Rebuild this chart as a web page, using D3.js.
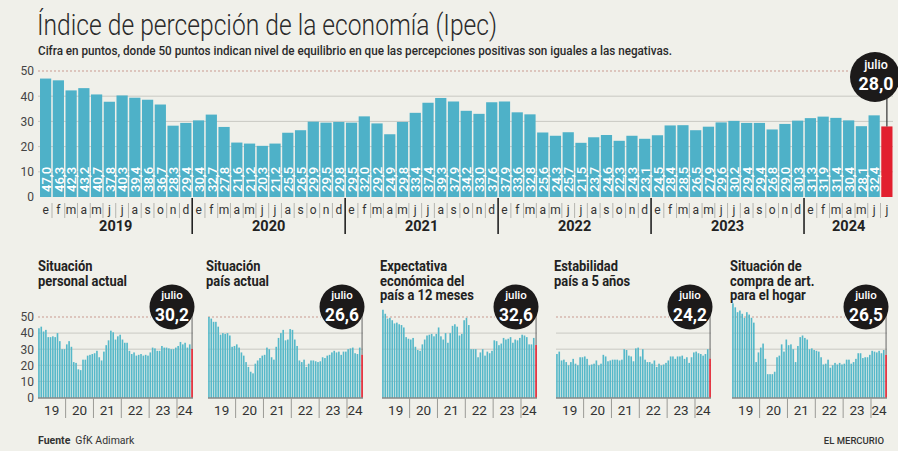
<!DOCTYPE html>
<html><head><meta charset="utf-8">
<script src="https://cdn.jsdelivr.net/npm/d3@7"></script>
<style>
html,body{margin:0;padding:0;background:#f0f0ea;}
svg{display:block;font-family:Roboto,"Noto Sans",sans-serif;}
</style></head>
<body>
<svg id="c" width="898" height="451"></svg>
<script>
// ---------- DATA ----------
const monthLetters = ["e","f","m","a","m","j","j","a","s","o","n","d"];
const years = ["2019","2020","2021","2022","2023","2024"];
const shortYears = ["19","20","21","22","23","24"];
const ipec = [
  47.0,46.3,42.3,43.2,40.7,37.8,40.3,39.4,38.6,36.7,28.3,29.4,
  30.4,32.7,27.8,21.6,21.2,20.3,21.2,25.5,26.5,29.9,29.5,29.8,
  29.5,32.0,29.2,24.9,29.8,33.4,37.4,39.3,37.9,34.2,33.0,37.6,
  37.9,33.6,32.8,25.6,24.3,25.7,21.5,23.7,24.6,22.3,24.3,23.1,
  24.5,28.4,28.5,26.5,27.9,29.6,30.2,29.4,29.4,26.8,29.0,30.3,
  31.3,31.9,31.4,30.4,28.1,32.4,28.0];
const personal = [
  43,44,41,42,37.5,37.5,38,37.5,40,35,30,30,
  33,35,31.5,22,21.5,17.5,17,23.5,23.5,26,26.5,27,
  27.5,29,25,23,28.5,32.5,35.5,41.5,40.5,36,38,39,
  36,34,34,29,27,28,26,26.5,27,26,26.5,26,
  28,31,30.5,29,29,32,31,31,30.5,30,30,31,
  32,34.5,33,34,31,33,30.2];
const paisActual = [
  50,49,47,47,44,39,40,39.5,40,38.5,31.5,32,
  33,31,28,26,22,19,16,15,21,23,24.5,26,
  26.5,31,30,25,23.5,31.5,37,40,42,35.5,36,42.5,
  42,36,32,23,22,23.5,19,21,23,23,22.5,22,
  22.5,25,24.5,26,26.5,28,29,28,28.5,26.5,28.5,28.5,
  30,30.5,31,27.5,27,31,26.6];
const expectativa = [
  54.5,52,49,49.5,48,46,46.5,45.5,45,43.5,37.5,36.5,
  36,37,31.5,29.5,29,33,36,38.5,39,39.5,38,39.5,
  43.5,38,36,40,34,40,44.5,45.5,44,38.5,39.5,48,
  49.5,45,30,30,30,25,28,30,26,28.5,27.5,29,
  35.5,35,32.5,33.5,37,36,36.5,37.5,34,36,35.5,37,
  39,38.5,37.5,33,33,37,32.6];
const estabilidad = [
  27,28.5,23,23.5,22,20,22,24,21,20,25,25,
  25.5,24,20,20.5,21,23,20,21,26.5,25.5,22.5,23,
  23.5,23.5,23.5,23,23.5,30,29.5,26,25.5,22.5,30.5,31,
  25.5,30,23.5,22,22,21,23,19,21,20,20.5,21.5,
  23,25.5,25.5,24,25.5,25.5,26,24,25,21.5,25,28,
  28.5,27.5,27,26,27,30,24.2];
const compraHogar = [
  58.5,56,53,54,52,49.5,53,51.5,49.5,46.5,22,28,
  31,33.5,24,14.5,14.5,14.5,16,25,26,33,28.5,36,
  32.5,33,30,22,32,37.5,38.5,37,36,30,30.5,29.5,
  29,28.5,25,20.5,21,23.5,18.5,20,21.5,20.5,21.5,20.5,
  21,23.5,23.5,21,22,24,27.5,27.5,24.5,25,25,26.5,
  29,28.5,28,29,27.5,29.5,26.5];
const panelSeries = [personal, paisActual, expectativa, estabilidad, compraHogar];
const panelTitles = [
  ["Situación","personal actual"],
  ["Situación","país actual"],
  ["Expectativa","económica del","país a 12 meses"],
  ["Estabilidad","país a 5 años"],
  ["Situación de","compra de art.","para el hogar"]];
const yTicks = [0,10,20,30,40,50];
const titleText = "Índice de percepción de la economía (Ipec)";
const subtitleText = "Cifra en puntos, donde 50 puntos indican nivel de equilibrio en que las percepciones positivas son iguales a las negativas.";

// ---------- STYLE ----------
const BAR = "#4eb1c8", RED = "#e2202f", GRID = "#c9c9c3", DASH = "#c99a90", INK = "#222";
const fmt = v => d3.format(".1f")(v).replace(".", ",");

const svg = d3.select("#c");
svg.append("rect").attr("width",898).attr("height",451).attr("fill","#f0f0ea");

// Title / subtitle
svg.append("text").attr("x",37).attr("y",35).attr("font-size",29).attr("font-weight",300)
  .attr("fill","#2a2a2a").text(titleText)
  .attr("textLength",460).attr("lengthAdjust","spacingAndGlyphs");
svg.append("text").attr("x",38).attr("y",55).attr("font-size",13).attr("font-weight",500)
  .attr("fill","#2a2a2a").text(subtitleText)
  .attr("textLength",634).attr("lengthAdjust","spacingAndGlyphs");

// ---------- MAIN CHART ----------
const n = ipec.length;
const x = d3.scaleBand().domain(d3.range(n)).range([39.5, 893]).paddingInner(0.12).paddingOuter(0.04);
const y = d3.scaleLinear().domain([0,50]).range([197,71]);
const step = x.step();
const bnd = i => x(i) - step*x.paddingInner()/2;

const g = svg.append("g");
g.selectAll("line.grid").data(yTicks.filter(d=>d>0 && d<50)).join("line")
  .attr("x1",38).attr("x2",893).attr("y1",d=>y(d)).attr("y2",d=>y(d))
  .attr("stroke",GRID).attr("stroke-width",1);
g.append("line").attr("x1",38).attr("x2",850).attr("y1",y(50)).attr("y2",y(50))
  .attr("stroke",DASH).attr("stroke-dasharray","2,2");

const ax = g.append("g").attr("transform","translate(35,0)")
  .call(d3.axisLeft(y).tickValues(yTicks).tickSize(0).tickPadding(1).tickFormat(d3.format("d")));
ax.select(".domain").remove();
ax.selectAll("text").attr("font-size",12).attr("fill","#444").attr("font-family","Roboto,sans-serif");

g.selectAll("rect.bar").data(ipec).join("rect")
  .attr("x",(d,i)=>x(i)).attr("width",x.bandwidth())
  .attr("y",d=>y(d)).attr("height",d=>y(0)-y(d))
  .attr("fill",(d,i)=>i===n-1?RED:BAR);

g.selectAll("text.val").data(ipec.slice(0,n-1)).join("text")
  .attr("transform",(d,i)=>`translate(${x(i)+x.bandwidth()/2+0.5},192) rotate(-90)`)
  .attr("dy","0.36em").attr("font-size",13).attr("font-weight",500).attr("fill","#fff")
  .text(fmt);

g.selectAll("text.m").data(ipec).join("text")
  .attr("x",(d,i)=>x(i)+x.bandwidth()/2).attr("y",214).attr("text-anchor","middle")
  .attr("font-size",12).attr("fill","#333").text((d,i)=>monthLetters[i%12]);
g.selectAll("line.ms").data(d3.range(1,n).filter(i=>i%12!==0)).join("line")
  .attr("x1",i=>bnd(i)).attr("x2",i=>bnd(i)).attr("y1",203).attr("y2",218)
  .attr("stroke","#b5b5b0").attr("stroke-width",1);
g.selectAll("line.ys").data(d3.range(12,n,12)).join("line")
  .attr("x1",i=>bnd(i)).attr("x2",i=>bnd(i)).attr("y1",198).attr("y2",234)
  .attr("stroke","#222").attr("stroke-width",1.6);
g.selectAll("text.yr").data(years).join("text")
  .attr("x",(d,k)=>{const a=k*12, b=Math.min(k*12+11,n-1); return (x(a)+x(b)+x.bandwidth())/2;})
  .attr("y",231).attr("text-anchor","middle").attr("font-size",14.5).attr("font-weight",700)
  .attr("fill",INK).text(d=>d);

// callout
const lastX = x(n-1)+x.bandwidth()/2;
g.append("line").attr("x1",lastX).attr("x2",lastX).attr("y1",90).attr("y2",y(ipec[n-1]))
  .attr("stroke","#333").attr("stroke-width",1.2);
g.append("circle").attr("cx",875).attr("cy",77).attr("r",25).attr("fill","#1c1a1a");
g.append("text").attr("x",876).attr("y",69).attr("text-anchor","middle").attr("font-size",12.5)
  .attr("font-weight",500).attr("fill","#fff").text("julio");
g.append("text").attr("x",876).attr("y",90).attr("text-anchor","middle").attr("font-size",18.5)
  .attr("font-weight",700).attr("fill","#fff").text(fmt(ipec[n-1]))
  .attr("textLength",35).attr("lengthAdjust","spacingAndGlyphs");

// ---------- SMALL MULTIPLES ----------
const panelX = [38, 208, 382, 556, 732];
const PW = 155;
const ys = d3.scaleLinear().domain([0,50]).range([397.5,317]);

const probe = svg.append("text").attr("font-size",14).attr("font-weight",700).text("personal actual");
const kTitle = 89 / probe.node().getComputedTextLength();
probe.remove();

panelSeries.forEach((vals, p) => {
  const x0 = panelX[p];
  const pg = svg.append("g");
  const xs = d3.scaleBand().domain(d3.range(vals.length)).range([x0, x0+PW]).paddingInner(0.3).paddingOuter(0.05);
  const st = xs.step();
  const b = i => xs(i) - st*xs.paddingInner()/2;

  panelTitles[p].forEach((line, li) => {
    const tt = pg.append("text").attr("x",x0 - (p===0?0:2)).attr("y",271 + li*14.6)
      .attr("font-size",14).attr("font-weight",700).attr("fill",INK).text(line);
    const w = tt.node().getComputedTextLength();
    tt.attr("textLength", w*kTitle).attr("lengthAdjust","spacingAndGlyphs");
  });

  pg.selectAll("line.grid").data(yTicks.filter(d=>d>0&&d<50)).join("line")
    .attr("x1",x0).attr("x2",x0+PW).attr("y1",d=>ys(d)).attr("y2",d=>ys(d))
    .attr("stroke",GRID);
  pg.append("line").attr("x1",x0).attr("x2",x0+PW-42).attr("y1",ys(50)).attr("y2",ys(50))
    .attr("stroke",DASH).attr("stroke-dasharray","2,2");

  if (p===0) {
    const a = pg.append("g").attr("transform","translate(35,0)")
      .call(d3.axisLeft(ys).tickValues(yTicks).tickSize(0).tickPadding(1).tickFormat(d3.format("d")));
    a.select(".domain").remove();
    a.selectAll("text").attr("font-size",12).attr("fill","#444").attr("font-family","Roboto,sans-serif");
  }

  pg.selectAll("rect").data(vals).join("rect")
    .attr("x",(d,i)=>xs(i)).attr("width",xs.bandwidth())
    .attr("y",d=>ys(d)).attr("height",d=>ys(0)-ys(d))
    .attr("fill",(d,i)=>i===vals.length-1?RED:"#55b8c9");

  pg.append("line").attr("x1",x0).attr("x2",x0+PW).attr("y1",ys(0)+0.5).attr("y2",ys(0)+0.5)
    .attr("stroke","#555").attr("stroke-width",1);

  pg.selectAll("line.ys").data(d3.range(12,vals.length,12)).join("line")
    .attr("x1",i=>b(i)).attr("x2",i=>b(i)).attr("y1",398).attr("y2",418)
    .attr("stroke","#9a9a96").attr("stroke-width",1);
  pg.selectAll("text.yr").data(shortYears).join("text")
    .attr("x",(d,k)=>{const a=k*12, e=Math.min(k*12+11,vals.length-1); return (xs(a)+xs(e)+xs.bandwidth())/2;})
    .attr("y",415).attr("text-anchor","middle").attr("font-size",13.5).attr("fill","#333").text(d=>d);

  const lx = xs(vals.length-1)+xs.bandwidth()/2;
  const cx = x0+PW-21, cy = 307;
  pg.append("line").attr("x1",lx).attr("x2",lx).attr("y1",cy).attr("y2",ys(vals[vals.length-1]))
    .attr("stroke","#666").attr("stroke-width",1);
  pg.append("circle").attr("cx",cx).attr("cy",cy).attr("r",22.5).attr("fill","#1c1a1a");
  pg.append("text").attr("x",cx).attr("y",299).attr("text-anchor","middle").attr("font-size",11.5)
    .attr("font-weight",500).attr("fill","#fff").text("julio");
  pg.append("text").attr("x",cx).attr("y",321).attr("text-anchor","middle").attr("font-size",18)
    .attr("font-weight",700).attr("fill","#fff").text(fmt(vals[vals.length-1]))
    .attr("textLength",34).attr("lengthAdjust","spacingAndGlyphs");
});

// ---------- FOOTER ----------
const f = svg.append("text").attr("x",38).attr("y",444).attr("font-size",10.5).attr("fill","#333");
f.append("tspan").attr("font-weight",700).text("Fuente");
f.append("tspan").attr("dx",5).text("GfK Adimark");
svg.append("text").attr("x",884).attr("y",444).attr("text-anchor","end").attr("font-size",9.5)
  .attr("font-weight",500).attr("fill","#333").text("EL MERCURIO");
</script>
</body></html>
